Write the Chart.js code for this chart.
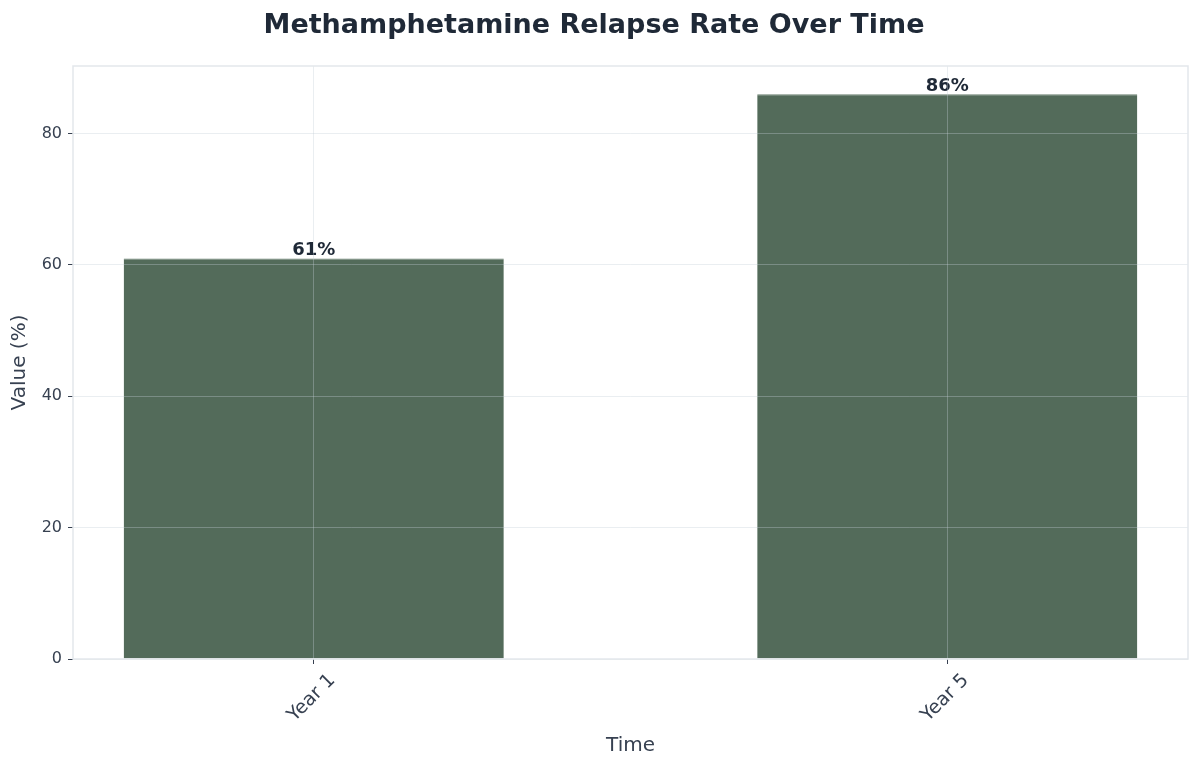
<!DOCTYPE html>
<html>
<head>
<meta charset="utf-8">
<script src="https://cdn.jsdelivr.net/npm/chart.js@4"></script>
<style>
html,body{margin:0;padding:0;background:#fff;}
#wrap{width:1200px;height:768px;}
</style>
</head>
<body>
<div id="wrap"><canvas id="c" width="1200" height="768"></canvas></div>
<script>
const categories = ["Year 1", "Year 5"];
const values = [61, 86];
const yTicks = [0, 20, 40, 60, 80];
const titleText = "Methamphetamine Relapse Rate Over Time";
const xTitle = "Time";
const yTitle = "Value (%)";

const FONT = "'DejaVu Sans', sans-serif";

const borderPlugin = {
  id: 'areaBorder',
  afterDraw(chart) {
    const a = chart.chartArea, ctx = chart.ctx;
    ctx.save();
    ctx.strokeStyle = '#e3e7ec';
    ctx.lineWidth = 1.5;
    ctx.strokeRect(a.left, a.top, a.right - a.left, a.bottom - a.top);
    ctx.restore();
  }
};

const labelPlugin = {
  id: 'barLabels',
  afterDatasetsDraw(chart) {
    const ctx = chart.ctx;
    const meta = chart.getDatasetMeta(0);
    ctx.save();
    ctx.font = "bold 18px " + FONT;
    ctx.fillStyle = '#1f2937';
    ctx.textAlign = 'center';
    ctx.textBaseline = 'alphabetic';
    meta.data.forEach((bar, i) => {
      ctx.fillText(values[i] + '%', bar.x, bar.y - 3);
    });
    ctx.restore();
  }
};

const xLabelPlugin = {
  id: 'xLabels',
  afterDraw(chart) {
    const ctx = chart.ctx;
    const xs = chart.scales.x;
    ctx.save();
    ctx.font = "19px " + FONT;
    ctx.fillStyle = '#374151';
    ctx.textAlign = 'center';
    ctx.textBaseline = 'middle';
    categories.forEach((c, i) => {
      const px = xs.getPixelForValue(i);
      ctx.save();
      ctx.translate(px - 2, xs.top + 39);
      ctx.rotate(-Math.PI / 4);
      ctx.fillText(c, 0, 0);
      ctx.restore();
    });
    ctx.restore();
  }
};

new Chart(document.getElementById('c'), {
  type: 'bar',
  data: {
    datasets: [{
      data: categories.map((c, i) => ({ x: i, y: values[i] })),
      backgroundColor: '#536b5a',
      borderColor: '#6a8070',
      borderWidth: { top: 1, left: 0, right: 0, bottom: 0 },
      borderSkipped: false,
      barPercentage: 0.6,
      categoryPercentage: 1.0
    }]
  },
  options: {
    responsive: false,
    animation: false,
    devicePixelRatio: 1,
    layout: { padding: { left: 0, right: 12, top: 0, bottom: 0 } },
    plugins: {
      legend: { display: false },
      tooltip: { enabled: false },
      title: {
        display: true,
        text: titleText,
        color: '#1f2937',
        font: { family: FONT, size: 27, weight: 'bold' },
        padding: { top: 10, bottom: 23.6 }
      }
    },
    scales: {
      x: {
        type: 'linear',
        min: -0.38,
        max: 1.38,
        offset: false,
        afterBuildTicks(scale) {
          scale.ticks = categories.map((c, i) => ({ value: i }));
        },
        afterFit(scale) { scale.height = 109; },
        ticks: {
          display: false
        },
        grid: {
          z: 1,
          offset: false,
          color: 'rgba(195,205,215,0.35)',
          tickColor: '#374151',
          tickLength: 5,
          lineWidth: 1
        },
        border: { display: false },
        title: {
          display: true,
          text: xTitle,
          color: '#374151',
          font: { family: FONT, size: 20 },
          padding: { top: 0, bottom: 10 }
        }
      },
      y: {
        min: 0,
        max: 90.3,
        afterBuildTicks(scale) {
          scale.ticks = yTicks.map(v => ({ value: v }));
        },
        afterFit(scale) { scale.width = 73; },
        ticks: {
          color: '#374151',
          font: { family: FONT, size: 16 },
          padding: 6
        },
        grid: {
          z: 1,
          color: 'rgba(195,205,215,0.35)',
          tickColor: '#374151',
          tickLength: 5,
          lineWidth: 1
        },
        border: { display: false },
        title: {
          display: true,
          text: yTitle,
          color: '#374151',
          font: { family: FONT, size: 20 },
          padding: { top: 8, bottom: 4 }
        }
      }
    }
  },
  plugins: [borderPlugin, labelPlugin, xLabelPlugin]
});
</script>
</body>
</html>
